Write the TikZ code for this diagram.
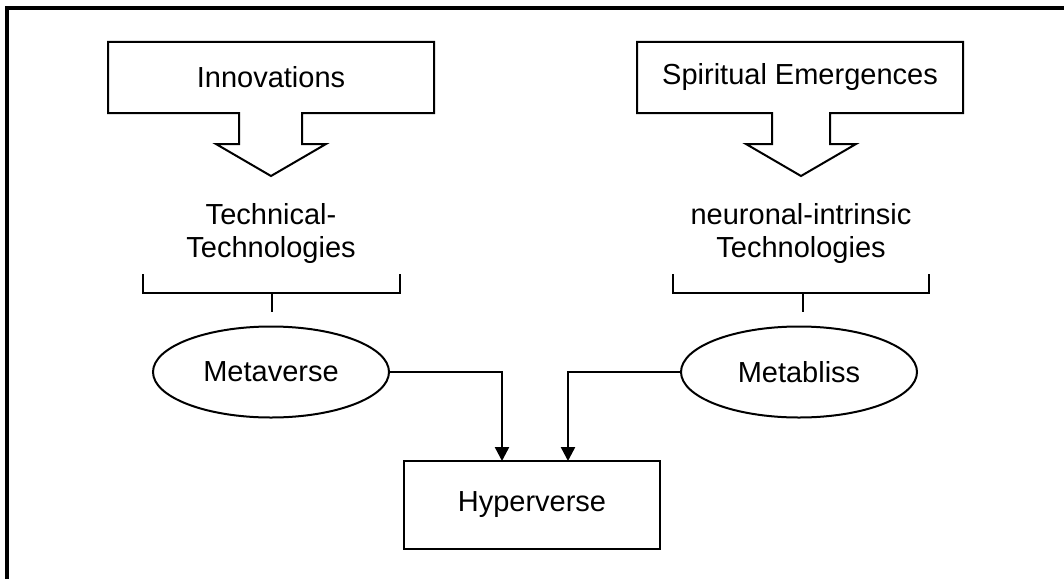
\documentclass[tikz,border=0pt]{standalone}
\usepackage{fontspec}
\setmainfont{Liberation Sans}
\usetikzlibrary{arrows.meta,shapes.geometric}
\tikzset{
  lbl/.style={font=\fontsize{29}{33}\selectfont, inner sep=0pt, align=center},
  blockarrow/.style={draw=black, line width=2pt, line join=miter},
  oval/.style={ellipse, draw=black, line width=2pt, minimum width=236pt, minimum height=91pt, inner sep=0pt, font=\fontsize{29}{33}\selectfont},
  boxnode/.style={rectangle, draw=black, line width=2pt, minimum width=256pt, minimum height=88pt, inner sep=0pt, font=\fontsize{29}{33}\selectfont},
  bracketline/.style={draw=black, line width=2pt},
  conn/.style={draw=black, line width=2.5pt, -{Triangle[width=14pt,length=14pt]}},
  frame/.style={draw=black, line width=4pt, line join=miter}
}
\begin{document}
\begin{tikzpicture}[x=1pt,y=-1pt]
\useasboundingbox (0,0) rectangle (1064,578);
% frame (top and left edges only)
\coordinate (fbl) at (6.7,580);
\coordinate (ftl) at (6.7,7.8);
\coordinate (ftr) at (1066,7.8);
\draw[frame] (fbl) -- (ftl) -- (ftr);

% left block arrow
\draw[blockarrow] (108,42) -- (434,42) -- (434,113) -- (302,113) -- (302,144) -- (326,144) -- (271,176) -- (216,144) -- (239,144) -- (239,113) -- (108,113) -- cycle;
\node[lbl] (inno) at (271,77) {Innovations};

% right block arrow
\draw[blockarrow] (637,42) -- (963,42) -- (963,113) -- (830,113) -- (830,144) -- (856,144) -- (801,176) -- (746,144) -- (772,144) -- (772,113) -- (637,113) -- cycle;
\node[lbl] (spirit) at (800,77) {Spiritual Emergences};

% technology labels
\node[lbl] (tech) at (271,233) {Technical-\\Technologies};
\node[lbl] (neuro) at (801,233) {neuronal-intrinsic\\Technologies};

% brackets
\coordinate (lb1) at (143,274);
\coordinate (lb2) at (143,293);
\coordinate (lb3) at (400,293);
\coordinate (lb4) at (400,274);
\coordinate (lt1) at (272,293);
\coordinate (lt2) at (272,312);
\draw[bracketline] (lb1) -- (lb2) -- (lb3) -- (lb4);
\draw[bracketline] (lt1) -- (lt2);

\coordinate (rb1) at (673,274);
\coordinate (rb2) at (673,293);
\coordinate (rb3) at (929,293);
\coordinate (rb4) at (929,274);
\coordinate (rt1) at (803,293);
\coordinate (rt2) at (803,312);
\draw[bracketline] (rb1) -- (rb2) -- (rb3) -- (rb4);
\draw[bracketline] (rt1) -- (rt2);

% ellipses
\node[oval] (meta) at (271,372) {Metaverse};
\node[oval] (bliss) at (799,372) {Metabliss};

% hyperverse
\node[boxnode] (hyper) at (532,505) {Hyperverse};
\coordinate (in1) at (502,461);
\coordinate (in2) at (568,461);

\draw[conn] (meta.east) -| (in1);
\draw[conn] (bliss.west) -| (in2);
\end{tikzpicture}
\end{document}
